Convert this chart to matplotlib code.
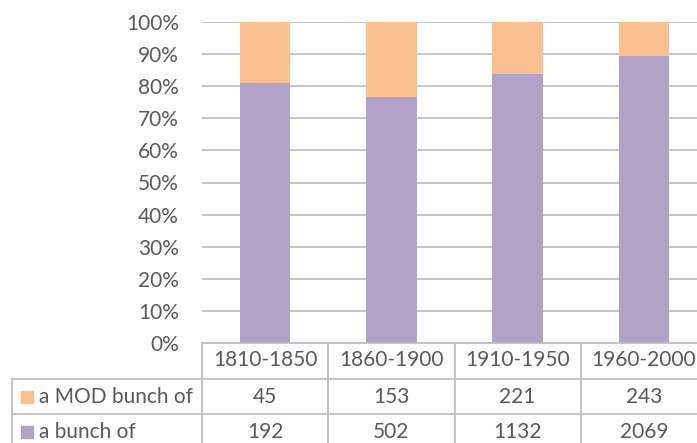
import matplotlib.pyplot as plt
from matplotlib.lines import Line2D
from matplotlib.patches import Rectangle
import numpy as np

periods = ["1810-1850", "1860-1900", "1910-1950", "1960-2000"]
mod_bunch = [45, 153, 221, 243]
bunch = [192, 502, 1132, 2069]
series_names = ["a MOD bunch of", "a bunch of"]

orange = "#FAC090"
purple = "#B3A2C7"
txt = "#595959"
grid = "#BFBFBF"
fs = 15

plt.rcParams["font.family"] = ["Lato", "DejaVu Sans"]

W, H = 697, 443
fig = plt.figure(figsize=(W / 100, H / 100), dpi=100)

# plot area in pixels (right side runs past the picture edge)
x0, x1 = 202, 707
ytop, ybot = 22, 343
ax = fig.add_axes([x0 / W, 1 - ybot / H, (x1 - x0) / W, (ybot - ytop) / H])

tot = np.array(mod_bunch) + np.array(bunch)
p_bunch = np.array(bunch) / tot
p_mod = np.array(mod_bunch) / tot
x = np.arange(len(periods))
ax.bar(x, p_bunch, width=0.4, color=purple, zorder=2)
ax.bar(x, p_mod, width=0.4, bottom=p_bunch, color=orange, zorder=2)

ax.set_xlim(-0.5, 3.5)
ax.set_ylim(0, 1)
ax.set_yticks(np.arange(0, 1.01, 0.1))
ax.set_yticklabels([f"{int(round(v * 100))}%" for v in np.arange(0, 1.01, 0.1)])
ax.tick_params(axis="y", length=0, pad=16.5, labelsize=fs, labelcolor=txt)
ax.set_xticks([])
ax.yaxis.grid(True, color=grid, lw=1.3, zorder=0)
for s in ax.spines.values():
    s.set_visible(False)


def px(xp, yp):
    return xp / W, 1 - yp / H


def hline(xa, xb, y):
    (a, yy), (b, _) = px(xa, y), px(xb, y)
    fig.add_artist(Line2D([a, b], [yy, yy], color=grid, lw=1.3))


def vline(xp, ya, yb):
    (xx, a), (_, b) = px(xp, ya), px(xp, yb)
    fig.add_artist(Line2D([xx, xx], [a, b], color=grid, lw=1.3))


# data table
hline(x0, W, 343)
hline(12, W, 379)
hline(12, W, 414)
vline(12, 379, H)
cw = (x1 - x0) / len(periods)
for i in range(len(periods)):
    vline(x0 + i * cw, 343, H)

for i, p in enumerate(periods):
    cx = x0 + (i + 0.5) * cw
    fig.text(*px(cx, 360), p, ha="center", va="center", fontsize=fs, color=txt)
    fig.text(*px(cx, 397), str(mod_bunch[i]), ha="center", va="center", fontsize=fs, color=txt)
    fig.text(*px(cx, 432), str(bunch[i]), ha="center", va="center", fontsize=fs, color=txt)

for name, col, yc in [(series_names[0], orange, 397), (series_names[1], purple, 432)]:
    lx, ly = px(21, yc + 6)
    fig.add_artist(Rectangle((lx, ly), 12 / W, 12 / H, color=col, transform=fig.transFigure))
    fig.text(*px(39, yc), name, ha="left", va="center", fontsize=fs, color=txt)

fig.savefig("out.png", dpi=100)
